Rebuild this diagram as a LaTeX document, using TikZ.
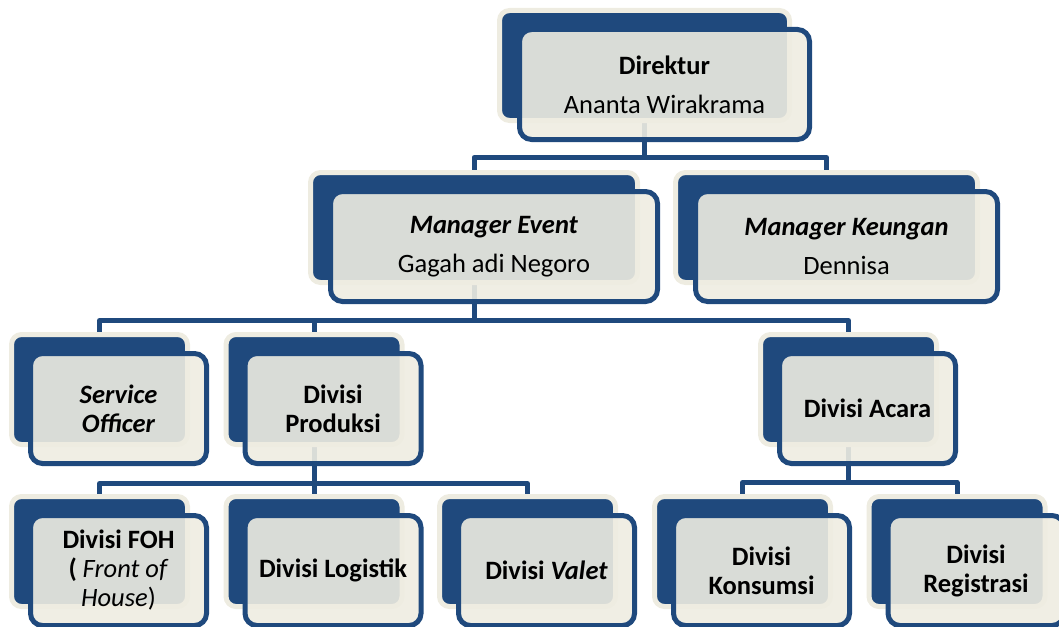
\documentclass[tikz,border=0pt]{standalone}
\usepackage{fontspec}
\setmainfont{Carlito}
\usetikzlibrary{calc,backgrounds}
\definecolor{navy}{HTML}{1F497D}
\definecolor{beige}{HTML}{EEECE1}

\begin{document}
\begin{tikzpicture}[x=1pt, y=-1pt,
  back/.style={rectangle, rounded corners=10pt, draw=beige, line width=5pt, fill=navy,
    minimum width=176pt, minimum height=110pt},
  front/.style={rectangle, rounded corners=12pt, draw=navy, line width=5pt, fill=beige,
    fill opacity=0.9, text opacity=1, text=black, align=center, inner sep=0pt,
    font=\fontsize{26.5}{29}\selectfont, minimum width=176pt, minimum height=110pt},
  link/.style={draw=navy, line width=5pt, line join=round}]

  \useasboundingbox (0,0) rectangle (1059,626);
  \clip (0,0) rectangle (1059,626);

  % pimpinan
  \node[back, minimum width=290pt] (dir) at (644.5,65.5) {};
  \node[front, minimum width=290pt] (dirF) at ($(dir)+(20,19)$) {\textbf{Direktur}\\[10pt]Ananta Wirakrama};

  % manager
  \node[back, minimum width=327pt] (mev) at (474,227.5) {};
  \node[front, minimum width=327pt] (mevF) at ($(mev)+(20,19)$) {\textbf{\textit{Manager Event}}\\[10pt]Gagah adi Negoro};
  \node[back, minimum width=302pt] (mkeu) at (826.5,227.5) {};
  \node[front, minimum width=302pt] (mkeuF) at ($(mkeu)+(20,19)$) {\textbf{\textit{Manager Keungan}}\\[10pt]Dennisa};

  % divisi
  \node[back] (so) at (99.5,389.5) {};
  \node[front] (soF) at ($(so)+(19,19)$) {\textbf{\textit{Service}}\\\textbf{\textit{Officer}}};
  \node[back] (prod) at (314,389.5) {};
  \node[front] (prodF) at ($(prod)+(19,19)$) {\textbf{Divisi}\\\textbf{Produksi}};
  \node[back] (acara) at (848.5,389.5) {};
  \node[front] (acaraF) at ($(acara)+(19,19)$) {\textbf{Divisi Acara}};

  % sub divisi
  \node[back] (foh) at (99.5,551.5) {};
  \node[front] (fohF) at ($(foh)+(19,19)$) {\textbf{Divisi FOH}\\\textbf{(} \textit{Front of}\\\textit{House})};
  \node[back] (log) at (314,551.5) {};
  \node[front] (logF) at ($(log)+(19,19)$) {\textbf{Divisi Logistik}};
  \node[back] (valet) at (527.5,551.5) {};
  \node[front] (valetF) at ($(valet)+(19,19)$) {\textbf{Divisi \textit{Valet}}};
  \node[back] (kons) at (742.5,551.5) {};
  \node[front] (konsF) at ($(kons)+(19,19)$) {\textbf{Divisi}\\\textbf{Konsumsi}};
  \node[back] (reg) at (957,551.5) {};
  \node[front] (regF) at ($(reg)+(19,19)$) {\textbf{Divisi}\\\textbf{Registrasi}};

  % garis
  \begin{scope}[on background layer]
    \draw[link] (dir.south) -- ++(0,34.5) -| (mev.north);
    \draw[link] (dir.south) -- ++(0,34.5) -| (mkeu.north);
    \draw[link] (mev.south) -- ++(0,35.5) -| (so.north);
    \draw[link] (mev.south) -- ++(0,35.5) -| (prod.north);
    \draw[link] (mev.south) -- ++(0,35.5) -| (acara.north);
    \draw[link] (prod.south) -- ++(0,36.5) -| (foh.north);
    \draw[link] (prod.south) -- ++(0,36.5) -| (log.north);
    \draw[link] (prod.south) -- ++(0,36.5) -| (valet.north);
    \draw[link] (acara.south) -- ++(0,35.5) -| (kons.north);
    \draw[link] (acara.south) -- ++(0,35.5) -| (reg.north);
  \end{scope}
\end{tikzpicture}
\end{document}
